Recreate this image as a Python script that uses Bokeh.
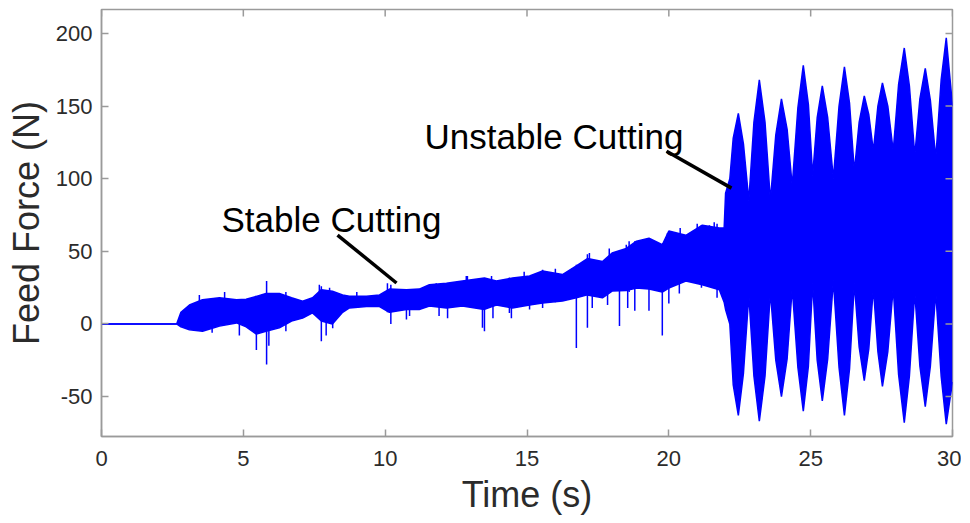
import math
from bokeh.plotting import figure
from bokeh.models import Range1d, Label, FixedTicker, ColumnDataSource
from bokeh.embed import file_html
from bokeh.resources import INLINE

# ---- data (envelope of the feed-force signal) ----
time_s = [0, 2.65, 2.8, 3.1, 3.56, 4.16, 4.76, 5.1, 5.46, 5.8, 6.27, 6.7, 7.09, 7.44, 7.75,
          8.14, 8.5, 8.74, 9.34, 9.8, 10.15, 10.75, 11.2, 11.56, 12.16, 12.72, 13.5, 13.92,
          14.49, 15.09, 15.55, 16.25, 16.74, 17.13, 17.66, 18.0, 18.5, 18.86, 19.3, 19.77,
          20.0, 20.6, 21.18, 21.78, 21.95,
          22.0, 22.15, 22.27, 22.45, 22.63, 22.82, 23.0, 23.19, 23.39, 23.58, 23.77, 23.97,
          24.17, 24.35, 24.55, 24.74, 24.92, 25.07, 25.23, 25.41, 25.6, 25.8, 26.0, 26.19,
          26.37, 26.54, 26.71, 26.89, 27.05, 27.21, 27.37, 27.53, 27.72, 27.91, 28.1, 28.30,
          28.48, 28.67, 28.85, 29.04, 29.22, 29.41, 29.6, 29.78, 30.0]
force_upper = [0, 0, 8, 13, 16.7, 18, 16.7, 17, 19, 21, 21, 18, 15.6, 18, 23.6,
               22.5, 20, 19, 19, 20, 24, 23.6, 24, 27, 28, 29.5, 31.6, 29.5,
               31.6, 33, 36.4, 34, 40, 45, 43, 48.8, 52, 57, 59, 54.5,
               64, 61, 68, 66, 66,
               90, 100, 128, 145, 124, 85, 139, 168, 139, 85, 130, 155,
               134, 95, 149, 178, 151, 102, 142, 164, 142, 100, 150, 177,
               152, 105, 139, 157, 144, 119, 150, 166, 150, 119, 165, 190,
               164, 116, 155, 176, 154, 114, 168, 197, 150]
force_lower = [0, 0, -2, -4, -5, -1.5, 0.7, -2, -7, -5, -2.7, 2, 4, 7.6, 2,
               0, 8, 11, 12, 12, 8, 10, 10, 12.4, 11, 12.4, 10, 13,
               11, 13, 14.4, 15.8, 18, 20, 18, 22.6, 23, 24.7, 24, 22,
               24.7, 29.5, 27, 23.6, 15,
               10, 0, -42, -63, -34, 20, -36, -67, -36, 22, -25, -50,
               -24, 25, -30, -60, -29, 28, -25, -53, -24, 30, -30, -63,
               -31, 28, -16, -39, -17, 25, -19, -43, -19, 25, -35, -68,
               -36, 22, -29, -57, -29, 22, -36, -69, -40]

# isolated spikes / hairs of the signal
spike_t = [3.45, 3.9, 4.34, 4.86, 5.46, 5.82, 5.9, 6.5, 7.68, 7.75, 7.92, 8.04, 8.15, 9.0,
           10.08, 10.2, 10.75, 10.86, 11.8, 11.9, 12.2, 12.86, 12.9, 13.43, 13.5, 13.75, 13.8,
           14.38, 14.45, 14.9, 15.09, 15.55, 16.0, 16.6, 16.74, 17.13, 17.2, 17.3, 17.37,
           17.84, 17.9, 18.26, 18.5, 18.55, 18.6, 18.8, 19.3, 19.77, 19.95, 20.0, 20.37,
           20.4, 21.0, 21.15, 21.43, 21.6, 21.7]
spike_lo = [2, -6, 2, -8, -18, -28, -15, -5, 5, -12, -8, 5, -3, 12,
            8, 0, 3, 5.5, 12, 5.5, 4, 14, 12, -2.7, -5, 14, 4,
            7.6, 4, 13, 10, 11, 15, 18, -16.5, -2.7, 20, 11, 20,
            13, 22, -1.4, 25, 11, 22, 9, 9, -8, 28, 14, 21,
            28, 30, 25, 30, 26, 18]
spike_hi = [20, 10, 22, 10, 10, 29.5, 10, 22, 27, 26, 15, 25, 22, 22,
            28, 27, 24, 20, 28, 25, 28, 33, 33, 28, 30, 33, 30,
            32, 31.6, 36, 33, 37.3, 38, 38.5, 40.8, 48, 48.8, 40, 44,
            45, 52, 45, 54.5, 50, 57, 57, 59, 55, 62.5, 64, 61,
            66, 69, 68, 68, 70, 69]

x_ticks = [0, 5, 10, 15, 20, 25, 30]
y_ticks = [-50, 0, 50, 100, 150, 200]
y_tick_labels = ["-50", "0", "50", "100", "150", "200"]
X_MIN, X_MAX = 0, 30
Y_MIN, Y_MAX = -77.5, 216.5

# annotations (text and pointer lines)
annot_text = ["Stable Cutting", "Unstable Cutting"]
annot_tx = [4.23, 11.39]
annot_ty = [71.7, 129.2]
ptr_x0 = [8.32, 19.92]
ptr_y0 = [61.2, 118.9]
ptr_x1 = [10.4, 22.21]
ptr_y1 = [28.2, 93.5]

BLUE = "#0000ff"
GRAY = "#9a9a9a"
TXT = "#2b2b2b"
FONT = "Liberation Sans"

p = figure(width=961, height=517, x_range=Range1d(X_MIN, X_MAX), y_range=Range1d(Y_MIN, Y_MAX),
           output_backend="svg", toolbar_location=None,
           min_border_left=101, min_border_right=9, min_border_top=9, min_border_bottom=80)
p.xgrid.visible = False
p.ygrid.visible = False
p.outline_line_color = GRAY
p.outline_line_width = 1.5
p.background_fill_color = "white"
p.border_fill_color = "white"

src = ColumnDataSource(dict(t=time_s, up=force_upper, lo=force_lower))
p.varea(x="t", y1="lo", y2="up", source=src, fill_color=BLUE)
p.line(x="t", y="up", source=src, line_color=BLUE, line_width=1.5)
p.line(x="t", y="lo", source=src, line_color=BLUE, line_width=1.5)
p.segment(x0=spike_t, y0=spike_lo, x1=spike_t, y1=spike_hi, line_color=BLUE, line_width=1.5)

p.segment(x0=ptr_x0, y0=ptr_y0, x1=ptr_x1, y1=ptr_y1, line_color="black", line_width=3.5)
for txt, tx, ty in zip(annot_text, annot_tx, annot_ty):
    p.add_layout(Label(x=tx, y=ty, text=txt, text_font=FONT, text_font_size="35px",
                       text_color="black", text_baseline="alphabetic", text_align="left"))

# inward ticks on the top and right sides of the box (MATLAB style)
p.ray(x=x_ticks, y=[Y_MAX] * len(x_ticks), length=7, length_units="screen",
      angle=-math.pi / 2, line_color=GRAY, line_width=1.5)
p.ray(x=[X_MAX] * len(y_ticks), y=y_ticks, length=7, length_units="screen",
      angle=math.pi, line_color=GRAY, line_width=1.5)

def style(ax, ticks, standoff):
    ax.ticker = FixedTicker(ticks=ticks)
    ax.axis_line_color = GRAY
    ax.axis_line_width = 1.5
    ax.major_tick_line_color = GRAY
    ax.major_tick_line_width = 1.5
    ax.major_tick_in = 7
    ax.major_tick_out = 0
    ax.minor_tick_line_color = None
    ax.major_label_text_font = FONT
    ax.major_label_text_font_size = "22px"
    ax.major_label_text_color = TXT
    ax.major_label_standoff = standoff
    ax.axis_label_text_font = FONT
    ax.axis_label_text_font_size = "36px"
    ax.axis_label_text_font_style = "normal"
    ax.axis_label_text_color = TXT

style(p.xaxis[0], x_ticks, 14)
style(p.yaxis[0], y_ticks, 9)
p.yaxis[0].major_label_overrides = {v: s for v, s in zip(y_ticks, y_tick_labels)}
p.xaxis[0].axis_label = "Time (s)"
p.yaxis[0].axis_label = "Feed Force (N)"
p.xaxis[0].axis_label_standoff = 5
p.yaxis[0].axis_label_standoff = 6

open("out.html", "w").write(file_html(p, INLINE))
